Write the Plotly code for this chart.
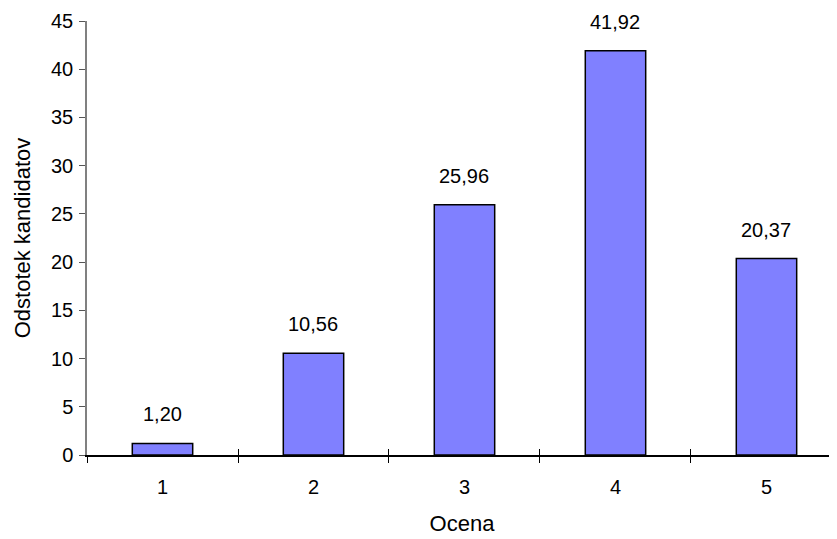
import plotly.graph_objects as go

categories = [1, 2, 3, 4, 5]
tick_labels = ["1", "2", "3", "4", "5"]
values = [1.20, 10.56, 25.96, 41.92, 20.37]
boundaries = [0.5, 1.5, 2.5, 3.5, 4.5, 5.5]

FONT = "Arial, Liberation Sans, sans-serif"

fig = go.Figure()
fig.add_trace(go.Bar(
    x=categories, y=values, width=0.4,
    marker=dict(color="#8080FF", line=dict(color="black", width=1.5)),
    hoverinfo="skip", showlegend=False,
))
# invisible trace to carry the boundary-tick axis
fig.add_trace(go.Scatter(x=categories, y=values, xaxis="x2", mode="markers",
                         marker=dict(opacity=0), showlegend=False, hoverinfo="skip"))

for c, v in zip(categories, values):
    fig.add_annotation(x=c, y=v, text=f"{v:.2f}".replace(".", ","), showarrow=False,
                       yanchor="bottom", yshift=16, font=dict(size=20, color="black", family=FONT))

xr = [0.5, 5.467]
fig.update_layout(
    width=829, height=531,
    margin=dict(l=79, r=0, t=13, b=84),
    paper_bgcolor="white", plot_bgcolor="white",
    font=dict(family=FONT, color="black", size=20),
    separators=",.",
    xaxis=dict(
        range=xr, tickmode="array", tickvals=categories, ticktext=tick_labels,
        ticks="", showline=True, linecolor="black", linewidth=1.5, showgrid=False,
        zeroline=False, tickfont=dict(size=20), automargin=False,
        minor=dict(tickmode="array", tickvals=boundaries, ticks="outside", ticklen=6,
                   tickcolor="black", tickwidth=1, showgrid=False),
        title=dict(text="Ocena", font=dict(size=22), standoff=19),
        ticklabelstandoff=13,
    ),
    xaxis2=dict(
        range=xr, overlaying="x", anchor="y", side="bottom",
        tickmode="array", tickvals=boundaries, ticks="inside", ticklen=6,
        tickcolor="black", tickwidth=1, showticklabels=False, showgrid=False,
        zeroline=False, showline=False, automargin=False,
    ),
    yaxis=dict(
        range=[0, 45], tickmode="array", tickvals=list(range(0, 50, 5)),
        ticks="outside", ticklen=6, tickcolor="#555555", tickwidth=1,
        showline=True, linecolor="#808080", linewidth=1.5, showgrid=False,
        zeroline=False, tickfont=dict(size=20), automargin=False,
        ticklabelstandoff=2,
        title=dict(text="Odstotek kandidatov", font=dict(size=22), standoff=14),
    ),
)

fig.write_html("out.html")
